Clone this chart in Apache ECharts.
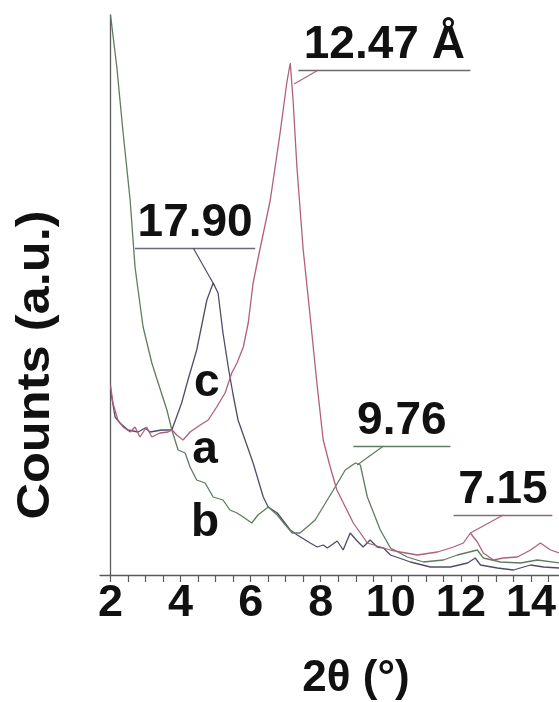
<!DOCTYPE html>
<html>
<head>
<meta charset="utf-8">
<script src="https://cdn.jsdelivr.net/npm/echarts@6/dist/echarts.min.js"></script>
<style>html,body{margin:0;padding:0;background:#fff}#c{width:559px;height:702px}</style>
</head>
<body>
<div id="c"></div>
<script>
// ---- data (2θ in degrees, counts in arbitrary units) ----
const xTickLabels = [2, 4, 6, 8, 10, 12, 14];
const xMinorTicks = [2,2.5,3,3.5,4,4.5,5,5.5,6,6.5,7,7.5,8,8.5,9,9.5,10,10.5,11,11.5,12,12.5,13,13.5,14,14.5];

const curveA = [[2.0,185],[2.13,158],[2.27,152],[2.5,145],[2.79,143],[2.99,147],[3.13,143],[3.46,145],[3.75,145],[4.03,172],[4.21,195],[4.46,225],[4.75,275],[4.93,292],[5.07,282],[5.21,242],[5.36,208],[5.5,180],[5.64,155],[5.84,135],[6.07,112],[6.36,78],[6.5,68],[6.76,62],[7.13,45],[7.33,40],[7.7,32],[7.9,28],[8.07,30],[8.19,27],[8.47,34],[8.64,25],[8.84,42],[9.04,34],[9.21,28],[9.41,35],[9.61,28],[9.79,27],[9.99,20],[10.56,13],[11.13,8],[11.7,8],[12.19,12],[12.41,17],[12.56,10],[13.04,7],[13.5,5],[13.99,10],[14.36,8],[14.81,7]];

const curveB = [[2.0,560],[2.18,508],[2.36,442],[2.56,375],[2.7,308],[2.76,292],[2.93,248],[3.18,212],[3.36,192],[3.61,165],[3.75,145],[3.84,135],[3.93,125],[4.13,122],[4.27,108],[4.46,95],[4.7,92],[4.93,78],[5.21,75],[5.41,65],[5.61,62],[5.79,58],[6.03,52],[6.21,60],[6.5,68],[6.76,60],[6.99,50],[7.19,42],[7.41,42],[7.84,55],[8.36,85],[8.7,105],[8.99,112],[9.13,110],[9.33,78],[9.7,45],[9.99,27],[10.47,18],[10.93,13],[11.5,15],[11.9,20],[12.47,25],[12.64,17],[13.13,13],[13.7,12],[14.18,15],[14.81,12]];

const curveC = [[2.0,190],[2.07,172],[2.21,155],[2.36,148],[2.56,143],[2.7,148],[2.84,138],[3.03,148],[3.18,138],[3.41,142],[3.64,143],[3.76,145],[3.89,140],[4.07,135],[4.27,143],[4.56,150],[4.79,155],[5.03,168],[5.27,182],[5.46,202],[5.61,212],[5.79,228],[5.93,252],[6.07,292],[6.19,313],[6.56,375],[6.84,442],[7.03,492],[7.13,512],[7.21,475],[7.32,408],[7.5,325],[7.7,258],[7.89,192],[8.07,135],[8.27,108],[8.46,85],[8.56,78],[8.93,52],[9.33,32],[9.7,28],[9.99,25],[10.27,23],[10.76,20],[11.33,23],[11.79,28],[12.07,32],[12.27,42],[12.47,33],[12.64,22],[12.93,15],[13.21,17],[13.61,18],[13.99,25],[14.27,32],[14.56,25],[14.81,22]];

const peakLabels = ['12.47 Å', '17.90', '9.76', '7.15'];
const curveNames = ['a', 'b', 'c'];

// ---- styling / layout ----
const FONT = "'Liberation Sans', Arial, sans-serif";
const colA = '#4d4d68', colB = '#5e7c5e', colC = '#b0607a';
const axisCol = '#5a5a5a';

// annotation geometry (data coordinates)
const ann = [
  {text: peakLabels[0], col: colC, ulc: '#6a6a6a', ul: [7.36, 12.27, 505], lead: [[7.93,505],[7.24,491]], series: 2},
  {text: peakLabels[1], col: colA, ulc: '#6a6a78', ul: [2.70, 6.13, 327], lead: [[4.36,327],[4.96,290]], series: 0},
  {text: peakLabels[2], col: colB, ulc: '#5e7c6a', ul: [8.93, 11.70, 129], lead: [[9.79,129],[9.04,110]], series: 1},
  {text: peakLabels[3], col: colC, ulc: '#8a6a72', ul: [11.79, 14.61, 60], lead: [[13.21,60],[12.27,42]], series: 2}
];
const nameLabelPos = {a: [4.70,125], b: [4.70,52], c: [4.75,192]};

function markLinesFor(idx) {
  const out = [];
  ann.forEach(a => {
    if (a.series !== idx) return;
    out.push([
      {coord: [a.ul[0], a.ul[2]], lineStyle: {color: a.ulc, width: 1.3, type: 'solid'},
       label: {show: true, formatter: a.text, position: 'insideMiddleTop', distance: 2,
               fontSize: 46, fontWeight: 'bold', fontFamily: FONT, color: '#111'}},
      {coord: [a.ul[1], a.ul[2]]}
    ]);
    out.push([
      {coord: a.lead[0], lineStyle: {color: a.col, width: 1.2, type: 'solid'}, label: {show: false}},
      {coord: a.lead[1]}
    ]);
  });
  return out;
}

function mkSeries(name, data, color, idx) {
  const p = nameLabelPos[name];
  return {
    type: 'line', name: name, data: data, showSymbol: false, smooth: false,
    lineStyle: {color: color, width: 1.3}, itemStyle: {color: color},
    silent: true, animation: false, z: 3,
    markLine: {silent: true, symbol: ['none','none'], animation: false,
      lineStyle: {type: 'solid'}, data: markLinesFor(idx)},
    markPoint: {silent: true, animation: false, symbol: 'circle', symbolSize: 0,
      data: [{coord: p, label: {show: true, formatter: name, position: 'inside',
        fontSize: 46, fontWeight: 'bold', fontFamily: FONT, color: '#111'}}]}
  };
}

const chart = echarts.init(document.getElementById('c'), null, {renderer: 'canvas'});
chart.setOption({
  backgroundColor: '#fff',
  animation: false,
  grid: {left: 100, right: 0, top: 15, bottom: 127, outerBoundsMode: 'none', containLabel: false},
  xAxis: {
    type: 'value', min: 1.7, max: 14.8,
    axisLine: {show: true, lineStyle: {color: axisCol, width: 1.3}},
    axisTick: {show: true, customValues: xMinorTicks, length: 7, inside: false, lineStyle: {color: axisCol, width: 1.2}},
    axisLabel: {customValues: xTickLabels, fontSize: 45, fontWeight: 'bold', fontFamily: FONT, color: '#111', margin: 6},
    splitLine: {show: false}
  },
  yAxis: {
    type: 'value', min: 0, max: 560, offset: -10.5,
    axisLine: {show: true, lineStyle: {color: axisCol, width: 1.3}},
    axisTick: {show: false}, axisLabel: {show: false}, splitLine: {show: false}
  },
  graphic: [
    {type: 'text', x: 36, y: 365, rotation: Math.PI / 2, scaleX: 1.1,
     style: {text: 'Counts (a.u.)', fontSize: 46, fontWeight: 'bold', fontFamily: FONT, fill: '#111',
             textAlign: 'center', textVerticalAlign: 'middle'}},
    {type: 'text', x: 356, y: 679,
     style: {text: '2θ (°)', fontSize: 44, fontWeight: 'bold', fontFamily: FONT, fill: '#111',
             textAlign: 'center', textVerticalAlign: 'middle'}}
  ],
  series: [
    mkSeries('a', curveA, colA, 0),
    mkSeries('b', curveB, colB, 1),
    mkSeries('c', curveC, colC, 2)
  ]
});
</script>
</body>
</html>
